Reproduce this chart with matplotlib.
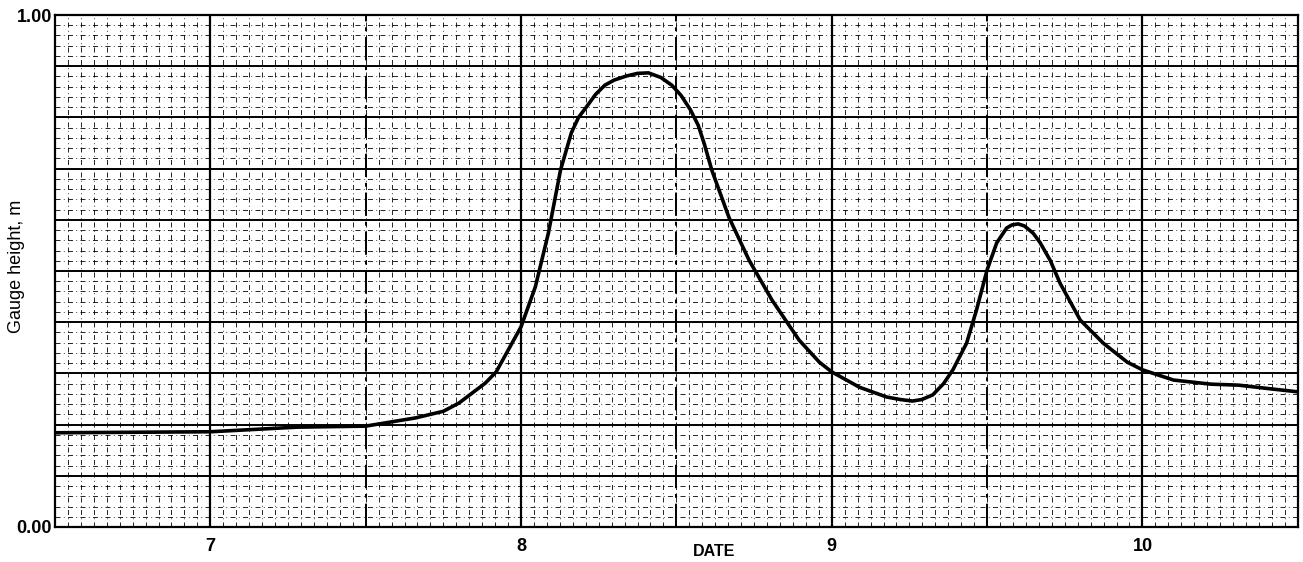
import matplotlib.pyplot as plt
import numpy as np
from matplotlib.ticker import MultipleLocator

plt.rcParams['font.family'] = ['Liberation Sans', 'DejaVu Sans']

# Данные гидрографа (дата, уровень воды)
date = [6.5, 7.0, 7.28, 7.5, 7.66, 7.75, 7.80, 7.885, 7.92, 8.0, 8.046, 8.088,
        8.127, 8.162, 8.185, 8.21, 8.24, 8.27, 8.30, 8.34, 8.375, 8.41, 8.45,
        8.485, 8.515, 8.545, 8.57, 8.59, 8.614, 8.669, 8.734, 8.808, 8.895,
        8.96, 9.0, 9.089, 9.176, 9.22, 9.26, 9.29, 9.325, 9.36, 9.39, 9.434,
        9.466, 9.5, 9.531, 9.563, 9.58, 9.6, 9.62, 9.648, 9.67, 9.703, 9.735,
        9.80, 9.874, 9.951, 10.0, 10.1, 10.22, 10.31, 10.41, 10.5]
height = [0.184, 0.186, 0.195, 0.197, 0.213, 0.226, 0.242, 0.281, 0.303, 0.391,
          0.469, 0.574, 0.697, 0.770, 0.800, 0.820, 0.845, 0.863, 0.873, 0.881,
          0.886, 0.887, 0.878, 0.863, 0.843, 0.815, 0.785, 0.748, 0.697, 0.605,
          0.521, 0.443, 0.365, 0.322, 0.303, 0.273, 0.254, 0.249, 0.246, 0.249,
          0.258, 0.280, 0.307, 0.359, 0.424, 0.502, 0.555, 0.584, 0.590, 0.592,
          0.588, 0.574, 0.556, 0.521, 0.476, 0.404, 0.359, 0.322, 0.307, 0.287,
          0.279, 0.277, 0.270, 0.264]

day_ticks = [7, 8, 9, 10]
day_labels = ['7', '8', '9', '10']

fig = plt.figure(figsize=(13.03, 5.62), dpi=100)
ax = fig.add_axes([0.0422, 0.0623, 0.9538, 0.9110])

ax.set_xlim(6.5, 10.5)
ax.set_ylim(0, 1)

# Сетка миллиметровки
ax.xaxis.set_minor_locator(MultipleLocator(1 / 24))
ax.yaxis.set_minor_locator(MultipleLocator(0.02))
ax.grid(which='minor', color='black', linewidth=0.6, linestyle=(0, (6, 4, 1, 4)))
for yy in np.arange(0.1, 1.0, 0.1):
    ax.axhline(yy, color='black', linewidth=1.4)
for xx in day_ticks:
    ax.axvline(xx, color='black', linewidth=1.6)
for xx in [7.5, 8.5, 9.5, 10.5]:
    ax.axvline(xx, color='black', linewidth=1.4, linestyle=(0, (12, 3, 2, 3)))

# Кривая уровня
ax.plot(date, height, color='black', linewidth=2.6, solid_joinstyle='round',
        solid_capstyle='round', zorder=5)

ax.set_xticks(day_ticks)
ax.set_xticklabels(day_labels, fontsize=13, fontweight='bold')
ax.set_yticks([0, 1])
ax.set_yticklabels(['0.00', '1.00'], fontsize=13, fontweight='bold')
ax.tick_params(axis='both', which='both', length=0)
ax.tick_params(axis='x', pad=8)
ax.tick_params(axis='y', pad=2)

for s in ax.spines.values():
    s.set_linewidth(1.6)

ax.set_ylabel('Gauge height, m', fontsize=13)
ax.yaxis.set_label_coords(-0.024, 0.51)
ax.text(0.530, -0.047, 'DATE', transform=ax.transAxes, ha='center', va='center',
        fontsize=11.5, fontweight='bold')

fig.savefig('out.png', dpi=100)
